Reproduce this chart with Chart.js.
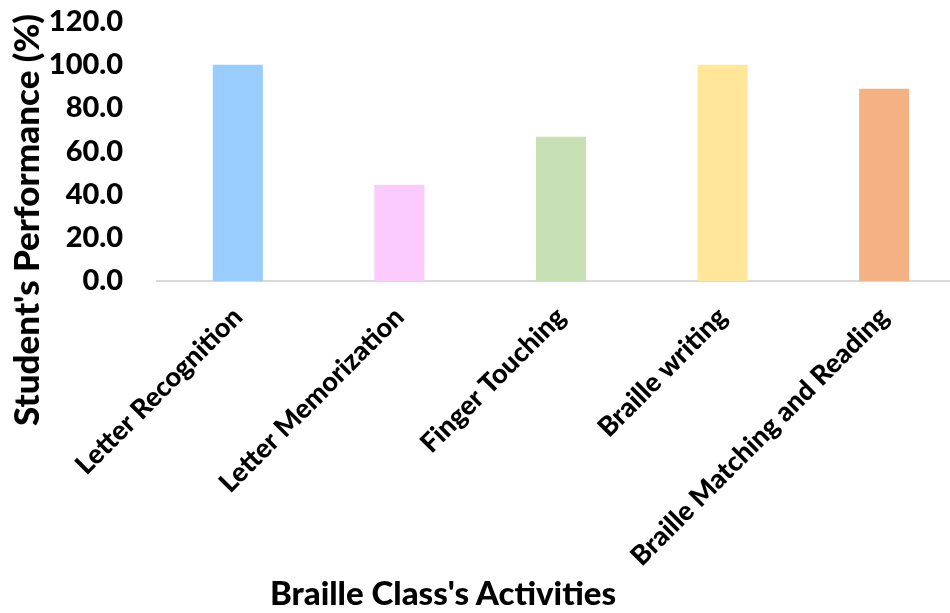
<!DOCTYPE html>
<html>
<head>
<meta charset="utf-8">
<script src="https://cdn.jsdelivr.net/npm/chart.js@4.4.0/dist/chart.umd.min.js"></script>
<style>
html, body { margin: 0; padding: 0; background: #fff; overflow: hidden; }
#wrap { position: relative; width: 950px; height: 613px; overflow: hidden; }
#box { position: absolute; left: 0; top: -22px; width: 965px; height: 635px; }
.ttl { position: absolute; font-family: Lato, sans-serif; font-weight: 900; color: #000; white-space: nowrap; }
#ytitle { font-size: 35px; left: 25px; top: 220px; transform: translate(-50%, -50%) rotate(-90deg); }
#xtitle { font-size: 33px; left: 443px; top: 592px; transform: translate(-50%, -50%); }
</style>
</head>
<body>
<div id="wrap">
  <div id="box"><canvas id="c"></canvas></div>
  <div id="ytitle" class="ttl">Student's Performance (%)</div>
  <div id="xtitle" class="ttl">Braille Class's Activities</div>
</div>
<script>
var activities = ["Letter Recognition", "Letter Memorization", "Finger Touching", "Braille writing", "Braille Matching and Reading"];
var performance = [100.0, 44.4, 66.7, 100.0, 88.9];
var barColors = ["#99CCFF", "#FCCBFD", "#C7E0B4", "#FFE699", "#F4B183"];

var ctx = document.getElementById("c").getContext("2d");
var chart = new Chart(ctx, {
  type: "bar",
  data: {
    labels: activities,
    datasets: [{
      data: performance,
      backgroundColor: barColors,
      barPercentage: 0.62,
      categoryPercentage: 0.5
    }]
  },
  options: {
    responsive: true,
    maintainAspectRatio: false,
    animation: false,
    layout: { padding: { left: 0, right: 0, top: 3, bottom: 0 } },
    plugins: { legend: { display: false }, tooltip: { enabled: false } },
    scales: {
      x: {
        grid: { display: false },
        border: { display: true, color: "#D9D9D9", width: 2 },
        ticks: {
          color: "#000",
          font: { family: "Lato", weight: "900", size: 27 },
          minRotation: 45, maxRotation: 45,
          padding: 12,
          autoSkip: false
        },
        afterFit: function (s) { s.height = 635 - 303; }
      },
      y: {
        min: 0, max: 120,
        grid: { display: false },
        border: { display: false },
        ticks: {
          stepSize: 20,
          color: "#000",
          padding: 26,
          font: { family: "Lato", weight: "900", size: 29 },
          callback: function (v) { return v.toFixed(1); }
        },
        afterFit: function (s) { s.width = 157; }
      }
    }
  }
});
</script>
</body>
</html>
